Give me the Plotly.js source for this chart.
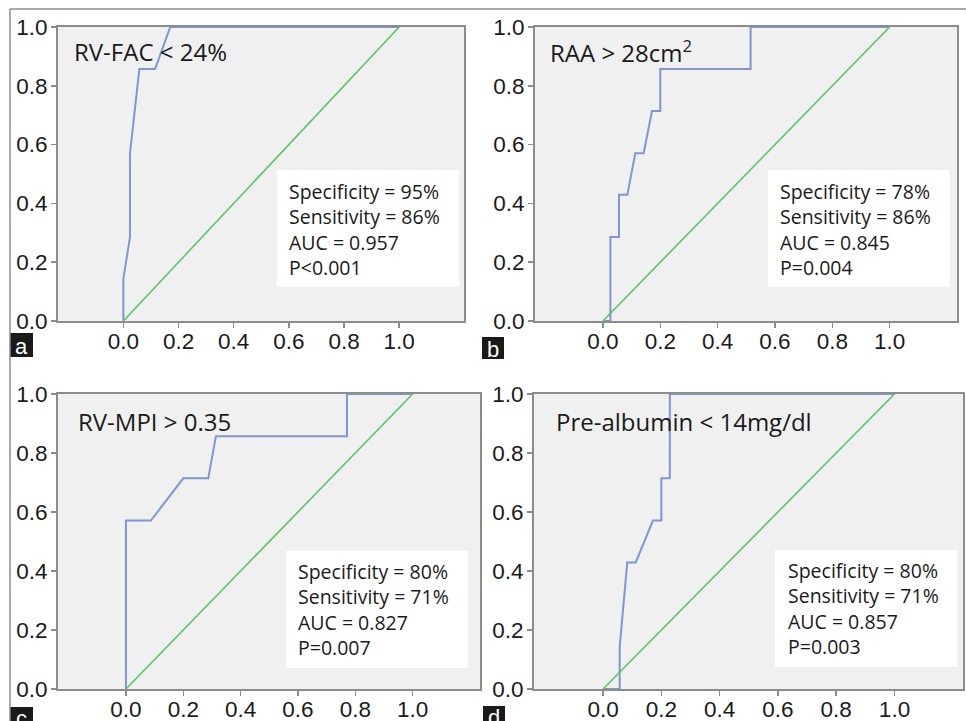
<!DOCTYPE html>
<html>
<head>
<meta charset="utf-8">
<script src="https://cdn.plot.ly/plotly-3.0.1.min.js"></script>
<style>html,body{margin:0;padding:0;background:#fff;}#chart{width:966px;height:721px;}</style>
</head>
<body>
<div id="chart"></div>
<script>
// ---- data ----
const tickVals = [0, 0.2, 0.4, 0.6, 0.8, 1.0];
const tickText = ['0.0', '0.2', '0.4', '0.6', '0.8', '1.0'];
const diagX = [0, 1];
const diagY = [0, 1];

const curveAx = [0, 0, 0.024, 0.024, 0.058, 0.115, 0.17, 1];
const curveAy = [0, 0.143, 0.286, 0.571, 0.857, 0.857, 1, 1];

const curveBx = [0, 0.026, 0.026, 0.056, 0.056, 0.085, 0.113, 0.142, 0.171, 0.2, 0.2, 0.515, 0.515, 1];
const curveBy = [0, 0, 0.286, 0.286, 0.429, 0.429, 0.571, 0.571, 0.714, 0.714, 0.857, 0.857, 1, 1];

const curveCx = [0, 0, 0.087, 0.2, 0.287, 0.314, 0.771, 0.771, 1];
const curveCy = [0, 0.571, 0.571, 0.714, 0.714, 0.857, 0.857, 1, 1];

const curveDx = [0, 0.057, 0.057, 0.083, 0.112, 0.171, 0.2, 0.2, 0.229, 0.229, 1];
const curveDy = [0, 0, 0.143, 0.429, 0.429, 0.571, 0.571, 0.714, 0.714, 1, 1];

const panelTitles = ['RV-FAC < 24%', 'RAA > 28cm<sup>2</sup>', 'RV-MPI > 0.35', 'Pre-albumin < 14mg/dl'];
const panelStats = [
  ['Specificity = 95%', 'Sensitivity = 86%', 'AUC = 0.957', 'P<0.001'],
  ['Specificity = 78%', 'Sensitivity = 86%', 'AUC = 0.845', 'P=0.004'],
  ['Specificity = 80%', 'Sensitivity = 71%', 'AUC = 0.827', 'P=0.007'],
  ['Specificity = 80%', 'Sensitivity = 71%', 'AUC = 0.857', 'P=0.003']
];
const panelLetters = ['a', 'b', 'c', 'd'];

// ---- layout helpers ----
const W = 966, H = 721;
const px = v => v / W;
const py = v => (H - v) / H;

const curvesX = [curveAx, curveBx, curveCx, curveDx];
const curvesY = [curveAy, curveBy, curveCy, curveDy];

// plot-area pixel boxes [left, right, top, bottom]
const boxes = [
  [58, 464, 27, 321],
  [535, 957, 27, 321],
  [58, 480, 394, 689],
  [534, 963, 394, 689]
];
// stats white box in domain fractions [x0,x1,y0,y1], text x, text y(middle)
const statBoxes = [
  [0.539, 0.988, 0.116, 0.514, 0.564, 0.311],
  [0.552, 0.983, 0.116, 0.514, 0.576, 0.311],
  [0.540, 0.972, 0.071, 0.468, 0.564, 0.268],
  [0.562, 0.986, 0.075, 0.471, 0.587, 0.273]
];
const titlePos = [[0.034, 0.915], [0.031, 0.915], [0.043, 0.908], [0.047, 0.908]];
// letter boxes [x0,x1,y0(top),y1(bottom)]
const letterBoxes = [
  [10, 33, 333, 357],
  [482, 504, 337, 359],
  [10, 33, 707, 731],
  [483, 505, 706, 730]
];

const traces = [];
const layout = {
  width: W, height: H,
  margin: {l: 0, r: 0, t: 0, b: 0},
  paper_bgcolor: '#ffffff',
  plot_bgcolor: '#f0f0f0',
  showlegend: false,
  shapes: [],
  annotations: []
};

const axColor = '#8c8c8c';
const tickFont = {family: 'Liberation Sans, Arial, sans-serif', size: 22.5, color: '#1a1a1a'};

for (let i = 0; i < 4; i++) {
  const s = i === 0 ? '' : String(i + 1);
  const b = boxes[i];
  layout['xaxis' + s] = {
    domain: [px(b[0]), px(b[1])], anchor: 'y' + s,
    range: [-0.237, 1.235], tickvals: tickVals, ticktext: tickText,
    ticks: 'outside', ticklen: 5, tickwidth: 1.5, tickcolor: axColor,
    showline: true, mirror: true, linecolor: axColor, linewidth: 2,
    showgrid: false, zeroline: false, tickfont: tickFont, layer: 'below traces', fixedrange: true,
    ticklabelstandoff: -6
  };
  layout['yaxis' + s] = {
    domain: [py(b[3]), py(b[2])], anchor: 'x' + s,
    range: [0, 1], tickvals: tickVals, ticktext: tickText,
    ticks: 'outside', ticklen: 5, tickwidth: 1.5, tickcolor: axColor,
    showline: true, mirror: true, linecolor: axColor, linewidth: 2,
    showgrid: false, zeroline: false, tickfont: tickFont, layer: 'below traces', fixedrange: true,
    ticklabelstandoff: -1
  };
  traces.push({
    x: curvesX[i], y: curvesY[i], xaxis: 'x' + s, yaxis: 'y' + s,
    type: 'scatter', mode: 'lines', line: {color: '#7f95d4', width: 2}, hoverinfo: 'skip'
  });
  traces.push({
    x: diagX, y: diagY, xaxis: 'x' + s, yaxis: 'y' + s,
    type: 'scatter', mode: 'lines', line: {color: '#5cc46a', width: 1.6}, hoverinfo: 'skip'
  });

  const sb = statBoxes[i];
  layout.shapes.push({
    type: 'rect', xref: 'x' + s + ' domain', yref: 'y' + s + ' domain',
    x0: sb[0], x1: sb[1], y0: sb[2], y1: sb[3],
    fillcolor: '#ffffff', line: {width: 0}, layer: 'below'
  });
  layout.annotations.push({
    xref: 'x' + s + ' domain', yref: 'y' + s + ' domain',
    x: sb[4], y: sb[5], xanchor: 'left', yanchor: 'middle', align: 'left',
    text: panelStats[i].join('<br>'), showarrow: false,
    font: {family: 'Open Sans, sans-serif', size: 19.5, color: '#1a1a1a'}
  });
  layout.annotations.push({
    xref: 'x' + s + ' domain', yref: 'y' + s + ' domain',
    x: titlePos[i][0], y: titlePos[i][1], xanchor: 'left', yanchor: 'middle',
    text: panelTitles[i], showarrow: false,
    font: {family: 'Open Sans, sans-serif', size: 24, color: '#1a1a1a'}
  });

  const lb = letterBoxes[i];
  layout.shapes.push({
    type: 'rect', xref: 'paper', yref: 'paper',
    x0: px(lb[0]), x1: px(lb[1]), y0: py(lb[3]), y1: py(lb[2]),
    fillcolor: '#1a1a1a', line: {width: 0}
  });
  layout.annotations.push({
    xref: 'paper', yref: 'paper',
    x: px((lb[0] + lb[1]) / 2), y: py(i < 2 ? (lb[2] + lb[3]) / 2 + 1 : lb[2] + 11),
    xanchor: 'center', yanchor: 'middle', text: panelLetters[i], showarrow: false,
    font: {family: 'Liberation Sans, Arial, sans-serif', size: 22, color: '#ffffff'}
  });
}

// outer frame lines (top and left)
layout.shapes.push({type: 'line', xref: 'paper', yref: 'paper', x0: px(10), x1: 1, y0: py(9), y1: py(9), line: {color: '#8c8c8c', width: 1.5}});
layout.shapes.push({type: 'line', xref: 'paper', yref: 'paper', x0: px(10), x1: px(10), y0: 0, y1: py(9), line: {color: '#8c8c8c', width: 1.5}});

Plotly.newPlot('chart', traces, layout, {staticPlot: true, displayModeBar: false});
</script>
</body>
</html>
